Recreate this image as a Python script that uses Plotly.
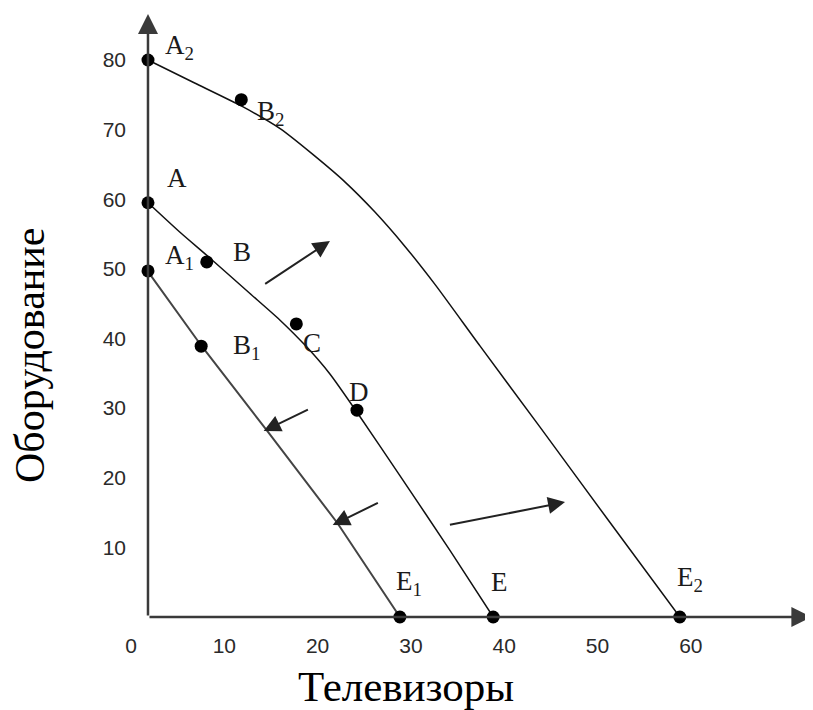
import plotly.graph_objects as go

# ---- data (x = Телевизоры, y = Оборудование) ----
ppf_base_x = [3, 6.4, 9.6, 13.9, 17.1, 20.0, 22.5, 25.4, 30, 35.4, 40]
ppf_base_y = [59.5, 55.3, 51.6, 46.5, 42.7, 38.8, 34.9, 29.4, 20.3, 9.5, 0]

ppf_low_x = [3, 8.7, 15.8, 23.3, 30]
ppf_low_y = [49.6, 39.0, 26.7, 13.5, 0]

ppf_high_x = [3, 8, 13, 17.2, 20.7, 24.1, 27.3, 30.5, 33.8, 38.6, 45, 52.5, 60]
ppf_high_y = [80, 76.7, 73.4, 70.1, 66.4, 62.5, 58.2, 53.3, 47.7, 38.9, 27.3, 13.6, 0]

point_names = ["A<sub>2</sub>", "B<sub>2</sub>", "A", "B", "C", "D", "E",
               "A<sub>1</sub>", "B<sub>1</sub>", "E<sub>1</sub>", "E<sub>2</sub>"]
point_x = [3, 13.0, 3, 9.3, 18.9, 25.4, 40, 3, 8.7, 30, 60]
point_y = [80, 74.3, 59.5, 51.0, 42.1, 29.7, 0, 49.7, 38.9, 0, 0]

# label offsets in pixels (style)
label_dx = [32, 29, 29, 35, 16, 2, 6, 32, 45, 9, 10]
label_dy = [13, -13, 25, 10, -19, 18, 35, 14, -1, 34, 38]

# shift arrows (tail -> tip)
arrow_tail_x = [15.4, 20.3, 27.8, 35.2]
arrow_tail_y = [47.7, 29.9, 16.5, 13.2]
arrow_tip_x = [22.5, 15.4, 22.8, 47.7]
arrow_tip_y = [54.0, 26.7, 13.2, 16.5]

x_ticks = [0, 10, 20, 30, 40, 50, 60]
y_ticks = [10, 20, 30, 40, 50, 60, 70, 80]

axis_x0 = 3          # where the vertical axis is drawn
x_axis_end = 74.1
y_axis_end = 86.6

x_title = "Телевизоры"
y_title = "Оборудование"

# ---- layout constants (window pixels; page body has an 8px margin) ----
OFF = 8
W, H = 813 - OFF, 710 - OFF
PLOT_L, PLOT_R, PLOT_T, PLOT_B = 100, 812, 12, 617   # plot area in window pixels
ML, MT = PLOT_L - OFF, PLOT_T - OFF
MR, MB = W - (PLOT_R - OFF), H - (PLOT_B - OFF)
PX_PER_X = 9.33
PIX_OF_X0 = 120
PX_PER_Y = 6.9625
plot_w = PLOT_R - PLOT_L
plot_h = PLOT_B - PLOT_T
x_range = [(PLOT_L - PIX_OF_X0) / PX_PER_X, (PLOT_R - PIX_OF_X0) / PX_PER_X]
y_range = [0, plot_h / PX_PER_Y]

fig = go.Figure()

fig.add_trace(go.Scatter(x=ppf_high_x, y=ppf_high_y, mode="lines",
                         line=dict(color="#111", width=1.5, shape="spline", smoothing=0.6),
                         hoverinfo="skip"))
fig.add_trace(go.Scatter(x=ppf_base_x, y=ppf_base_y, mode="lines",
                         line=dict(color="#111", width=1.5, shape="spline", smoothing=0.6),
                         hoverinfo="skip"))
fig.add_trace(go.Scatter(x=ppf_low_x, y=ppf_low_y, mode="lines",
                         line=dict(color="#444", width=2),
                         hoverinfo="skip"))

annotations = []
# axes as arrows
annotations.append(dict(x=axis_x0, y=y_axis_end, ax=axis_x0, ay=0, xref="x", yref="y",
                        axref="x", ayref="y", showarrow=True, arrowhead=2, arrowsize=1.6,
                        arrowwidth=2.5, arrowcolor="#3a3a3a", text="", standoff=0))
annotations.append(dict(x=x_axis_end, y=0, ax=axis_x0, ay=0, xref="x", yref="y",
                        axref="x", ayref="y", showarrow=True, arrowhead=2, arrowsize=1.6,
                        arrowwidth=2.5, arrowcolor="#3a3a3a", text="", standoff=0))
for tx, ty, hx, hy in zip(arrow_tail_x, arrow_tail_y, arrow_tip_x, arrow_tip_y):
    annotations.append(dict(x=hx, y=hy, ax=tx, ay=ty, xref="x", yref="y",
                            axref="x", ayref="y", showarrow=True, arrowhead=2,
                            arrowsize=1.7, arrowwidth=2, arrowcolor="#222",
                            text="", standoff=0))

fig.add_trace(go.Scatter(x=point_x, y=point_y, mode="markers",
                         marker=dict(color="black", size=13),
                         cliponaxis=False, hoverinfo="skip"))

serif = "Liberation Serif, Times New Roman, serif"
for name, px, py, dx, dy in zip(point_names, point_x, point_y, label_dx, label_dy):
    annotations.append(dict(x=px, y=py, xref="x", yref="y", text=name, showarrow=False,
                            xshift=dx, yshift=dy, xanchor="center", yanchor="middle",
                            font=dict(family=serif, size=27, color="#1a1a1a")))

annotations.append(dict(x=(406 - PLOT_L) / plot_w, y=(PLOT_B - 686) / plot_h,
                        xref="paper", yref="paper", text=x_title, showarrow=False,
                        xanchor="center", yanchor="middle",
                        font=dict(family=serif, size=43, color="black")))
annotations.append(dict(x=(30 - PLOT_L) / plot_w, y=(PLOT_B - 356) / plot_h,
                        xref="paper", yref="paper", text=y_title, showarrow=False,
                        textangle=-90, xanchor="center", yanchor="middle",
                        font=dict(family=serif, size=42, color="black")))

tick_font = dict(family="Liberation Sans, Arial, sans-serif", size=21, color="#2a2a2a")

fig.update_layout(
    width=W, height=H,
    margin=dict(l=ML, r=MR, t=MT, b=MB, pad=0),
    paper_bgcolor="white", plot_bgcolor="white",
    showlegend=False,
    annotations=annotations,
    xaxis=dict(range=x_range, tickvals=x_ticks, showgrid=False, zeroline=False,
               showline=False, ticks="", tickfont=tick_font,
               ticklabelstandoff=14, ticklabelshift=11, fixedrange=True),
    yaxis=dict(range=y_range, tickvals=y_ticks, showgrid=False, zeroline=False,
               showline=False, ticks="", tickfont=tick_font,
               anchor="free", position=(148 - PLOT_L) / plot_w,
               ticklabelstandoff=22, fixedrange=True),
)

fig.write_html("out.html")
